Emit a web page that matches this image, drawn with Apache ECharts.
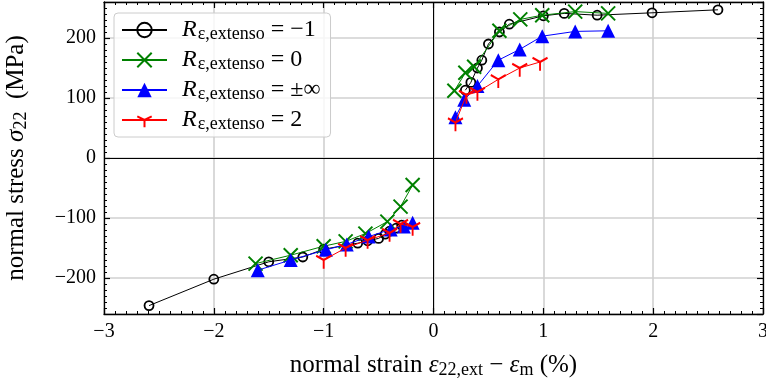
<!DOCTYPE html>
<html><head><meta charset="utf-8">
<script src="https://cdn.jsdelivr.net/npm/echarts@6/dist/echarts.min.js"></script>
<style>html,body{margin:0;padding:0;background:#fff}#c{width:766px;height:384px}</style>
</head><body><div id="c"></div>
<script>
// ---- data ----
const xTickValues = [-3, -2, -1, 0, 1, 2, 3];
const xTickLabels = ['−3', '−2', '−1', '0', '1', '2', '3'];
const yTickValues = [-200, -100, 0, 100, 200];
const yTickLabels = ['−200', '−100', '0', '100', '200'];
const legendLabels = ['−1', '0', '±∞', '2'];

const blackUpX = [0.29, 0.34, 0.40, 0.44, 0.50, 0.60, 0.69, 1.00, 1.19, 1.49, 1.99, 2.59];
const blackUpY = [113, 126, 150, 163, 190, 210, 223, 237, 241, 238, 242, 247];
const blackLoX = [-2.59, -2.00, -1.50, -1.19, -1.00, -0.69, -0.60, -0.50, -0.44, -0.40, -0.34, -0.29];
const blackLoY = [-246, -202, -173, -165, -152, -142, -138, -134, -127, -122, -117, -112];

const greenUpX = [0.19, 0.29, 0.37, 0.60, 0.79, 0.99, 1.29, 1.59];
const greenUpY = [112, 142, 152, 212, 231, 238, 244, 241];
const greenLoX = [-1.62, -1.30, -1.00, -0.80, -0.62, -0.42, -0.30, -0.19];
const greenLoY = [-176, -162, -147, -139, -126, -106, -81, -45];

const blueUpX = [0.20, 0.28, 0.40, 0.59, 0.785, 0.99, 1.29, 1.59];
const blueUpY = [68, 97, 120, 163, 181, 203, 211, 212];
const blueLoX = [-1.60, -1.30, -0.98, -0.79, -0.59, -0.39, -0.27, -0.19];
const blueLoY = [-187, -170, -153, -144, -131, -119, -114, -108];

const redUpX = [0.20, 0.30, 0.40, 0.59, 0.785, 0.97];
const redUpY = [59, 105, 110, 131, 150, 160];
const redLoX = [-1.00, -0.80, -0.60, -0.40, -0.30, -0.19];
const redLoY = [-170, -150, -137, -125, -110, -115];

// ---- chart ----
const FONT = 'Liberation Serif';
const pts = (xs, ys) => xs.map((x, i) => [x, ys[i]]);
const XMARK = 'path://M0,0L10,10M10,0L0,10';
const TRIDOWN = 'path://M0,-1M0,0L0,1M0,0L-0.866,-0.5M0,0L0.866,-0.5';

function mk(name, data, color, symbol, size, itemStyle, z) {
  return {
    type: 'line', name, data, xAxisIndex: 0, yAxisIndex: 0,
    symbol, symbolSize: size, showAllSymbol: true, z,
    lineStyle: { color, width: 1 },
    itemStyle: Object.assign({ color, borderColor: color }, itemStyle),
    emphasis: { disabled: true }, animation: false
  };
}

const styles = [
  { color: '#000000', symbol: 'circle', size: 9, item: { color: 'rgba(0,0,0,0)', borderWidth: 1.8 } },
  { color: '#008000', symbol: XMARK, size: 14, item: { borderWidth: 2 } },
  { color: '#0000ff', symbol: 'triangle', size: 14, item: { borderWidth: 0 } },
  { color: '#ff0000', symbol: TRIDOWN, size: [15, 17.3], item: { borderWidth: 2 } }
];
const groups = [
  [pts(blackUpX, blackUpY), pts(blackLoX, blackLoY)],
  [pts(greenUpX, greenUpY), pts(greenLoX, greenLoY)],
  [pts(blueUpX, blueUpY), pts(blueLoX, blueLoY)],
  [pts(redUpX, redUpY), pts(redLoX, redLoY)]
];
const series = [];
groups.forEach((g, k) => {
  const s = styles[k];
  g.forEach(d => series.push(mk(legendLabels[k], d, s.color, s.symbol, s.size, s.item, 3 + k)));
});
series[0].markLine = {
  silent: true, symbol: 'none', label: { show: false }, animation: false,
  lineStyle: { color: '#000', width: 1, type: 'solid' },
  data: [{ xAxis: 0 }, { yAxis: 0 }]
};
series[0].markLine.z = 1;

const lab = (vals, labs) => v => { const i = vals.indexOf(v); return i < 0 ? '' : labs[i]; };
const frame = { show: true, onZero: false, lineStyle: { color: '#000', width: 1.3 } };
const noLine = { show: false, onZero: false };
const majTick = { show: true, inside: true, length: 6, lineStyle: { color: '#000', width: 1.2 } };
const minTick = { show: true, inside: true, length: 3, lineStyle: { color: '#000', width: 1 } };
const grid = { show: true, lineStyle: { color: '#d0d0d0', width: 1.6 } };

const xCommon = { type: 'value', min: -3, max: 3, interval: 1, gridIndex: 0 };
const yCommon = { type: 'value', min: -260, max: 260, splitNumber: 5, gridIndex: 0 };

const option = {
  animation: false,
  backgroundColor: '#fff',
  grid: { left: 104, right: 3, top: 2, bottom: 70, containLabel: false, outerBoundsMode: 'none' },
  legend: {
    orient: 'vertical', left: 114, top: 13,
    data: legendLabels,
    itemWidth: 45, itemHeight: 18, itemGap: 4,
    padding: [4, 10, 4, 7],
    backgroundColor: 'rgba(255,255,255,0.8)',
    borderColor: '#cccccc', borderWidth: 1, borderRadius: 4,
    selectedMode: false,
    formatter: n => '{r|R}{s|ε,extenso}{t| = ' + n + '}',
    textStyle: {
      color: '#000', fontFamily: FONT,
      rich: {
        r: { fontFamily: FONT, fontStyle: 'italic', fontSize: 24, lineHeight: 26, color: '#000', padding: [0, 0, 0, 10] },
        s: { fontFamily: FONT, fontSize: 18, lineHeight: 18, color: '#000', padding: [8, 0, 0, 1] },
        t: { fontFamily: FONT, fontSize: 24, lineHeight: 26, color: '#000' }
      }
    }
  },
  xAxis: [
    Object.assign({}, xCommon, {
      position: 'bottom', axisLine: frame, axisTick: majTick,
      minorTick: Object.assign({ splitNumber: 10 }, minTick), splitLine: grid,
      axisLabel: { formatter: lab(xTickValues, xTickLabels), fontFamily: FONT, fontSize: 20, color: '#000', margin: 8 },
      name: '{a|normal strain }{i|ε}{s|22,ext}{a| − }{i|ε}{s|m}{a| (%)}',
      nameLocation: 'middle', nameGap: 38,
      nameTextStyle: {
        rich: {
          a: { fontFamily: FONT, fontSize: 25, color: '#000' },
          i: { fontFamily: FONT, fontSize: 25, fontStyle: 'italic', color: '#000' },
          s: { fontFamily: FONT, fontSize: 18, color: '#000', padding: [9, 0, 0, 0] }
        }
      }
    }),
    Object.assign({}, xCommon, {
      position: 'top', axisLine: frame, axisTick: majTick,
      minorTick: Object.assign({ splitNumber: 10 }, minTick), splitLine: { show: false },
      axisLabel: { show: false }
    })
  ],
  yAxis: [
    Object.assign({}, yCommon, {
      position: 'left', axisLine: frame, axisTick: majTick, splitLine: grid,
      axisLabel: { formatter: lab(yTickValues, yTickLabels), fontFamily: FONT, fontSize: 20, color: '#000', margin: 8, showMinLabel: false, showMaxLabel: false },
      name: '{a|normal stress }{i|σ}{s|22}{a|  (MPa)}',
      nameLocation: 'middle', nameGap: 74,
      nameTextStyle: {
        rich: {
          a: { fontFamily: FONT, fontSize: 25, color: '#000' },
          i: { fontFamily: FONT, fontSize: 25, fontStyle: 'italic', color: '#000' },
          s: { fontFamily: FONT, fontSize: 18, color: '#000', padding: [9, 0, 0, 0] }
        }
      }
    }),
    Object.assign({}, yCommon, {
      position: 'right', axisLine: frame, axisTick: majTick, splitLine: { show: false },
      axisLabel: { show: false }
    }),
    { type: 'value', min: -260, max: 260, interval: 10, position: 'left', gridIndex: 0,
      axisLine: noLine, axisTick: minTick, splitLine: { show: false }, axisLabel: { show: false } },
    { type: 'value', min: -260, max: 260, interval: 10, position: 'right', gridIndex: 0,
      axisLine: noLine, axisTick: minTick, splitLine: { show: false }, axisLabel: { show: false } }
  ],
  series
};
const chart = echarts.init(document.getElementById('c'), null, { renderer: 'canvas' });
chart.setOption(option);
</script>
</body></html>
